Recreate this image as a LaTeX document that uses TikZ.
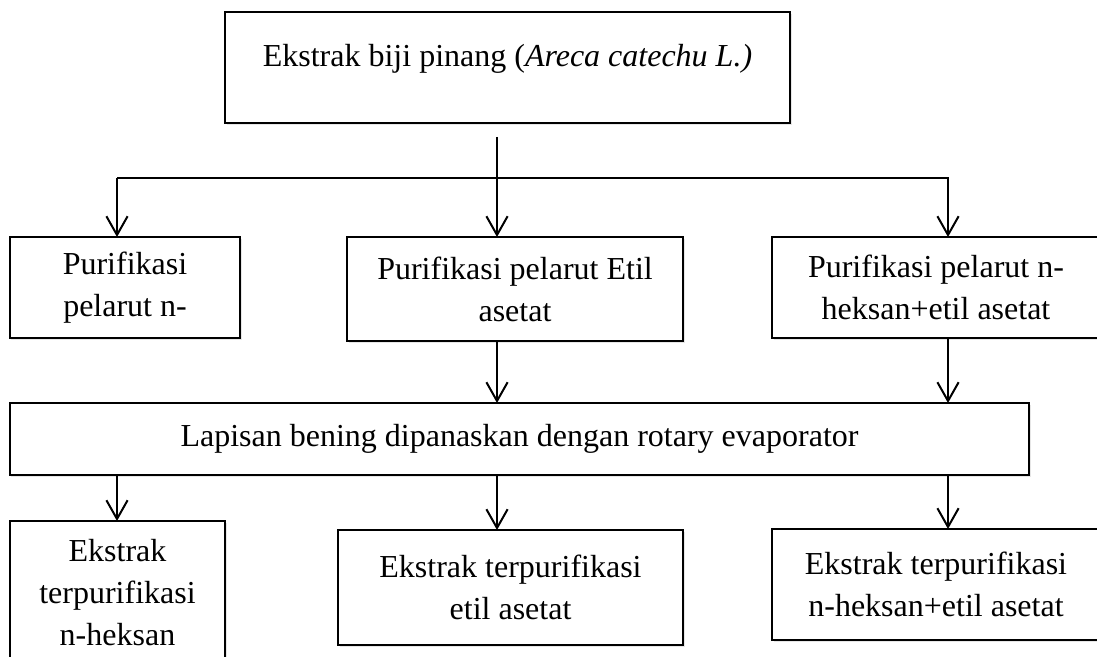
\documentclass[tikz,border=0pt]{standalone}
\usepackage{fontspec}
\setmainfont{Liberation Serif}
\usepackage{tikz}
\usetikzlibrary{arrows.meta, positioning, shadows}

\begin{document}
\begin{tikzpicture}[x=0.4pt, y=-0.4pt,
		kotak/.style={draw, fill=white, line width=0.9pt, inner sep=0pt, outer sep=0pt, align=center,
			font=\fontsize{12.8}{16.8}\selectfont,
			drop shadow={shadow xshift=0.6pt, shadow yshift=-0.9pt, opacity=0.2}},
		alir/.style={line width=0.8pt, -{Straight Barb[length=7.5pt, width=8.5pt]}}]
				% Bounding box:
				\clip (0, 0) rectangle (1097, 657);
				% Columns and branch points:
				\coordinate (kiri) at (117, 0);
				\coordinate (tengah) at (497, 0);
				\coordinate (kanan) at (948, 0);
				\coordinate (cabang) at (497, 137);
				\coordinate (garis) at (0, 178);
				% Boxes:
				\node[kotak, minimum width=226pt, minimum height=44.4pt] (ekstrak) at (507.5, 67.5) {Ekstrak biji pinang (\textit{Areca catechu L.)}\\[-6.8pt]\mbox{}};
				\node[kotak, minimum width=92pt, minimum height=40.4pt] (pnh) at (125, 287.5) {Purifikasi\\pelarut n-};
				\node[kotak, minimum width=134.4pt, minimum height=41.6pt] (pea) at (515, 289) {Purifikasi pelarut Etil\\asetat};
				\node[kotak, minimum width=131.2pt, minimum height=40.4pt] (pcamp) at (936, 287.5) {Purifikasi pelarut n-\\heksan+etil asetat};
				\node[kotak, minimum width=407.6pt, minimum height=28.8pt] (lapisan) at (519.5, 439) {Lapisan bening dipanaskan dengan rotary evaporator};
				\node[kotak, minimum width=86pt, minimum height=57.6pt] (enh) at (117.5, 593) {Ekstrak\\terpurifikasi\\n-heksan};
				\node[kotak, minimum width=138pt, minimum height=46pt] (eea) at (510.5, 587.5) {Ekstrak terpurifikasi\\etil asetat};
				\node[kotak, minimum width=131.2pt, minimum height=44.4pt] (ecamp) at (936, 584.5) {Ekstrak terpurifikasi\\n-heksan+etil asetat};
				% Arrows:
				\draw[alir] (cabang) -- (pea.north -| tengah);
				\draw[alir] (kiri |- garis) -- (pnh.north -| kiri);
				\draw[alir] (kiri |- garis) -- (kanan |- garis) -- (pcamp.north -| kanan);
				\draw[alir] (pea.south -| tengah) -- (lapisan.north -| tengah);
				\draw[alir] (pcamp.south -| kanan) -- (lapisan.north -| kanan);
				\draw[alir] (lapisan.south -| kiri) -- (enh.north -| kiri);
				\draw[alir] (lapisan.south -| tengah) -- (eea.north -| tengah);
				\draw[alir] (lapisan.south -| kanan) -- (ecamp.north -| kanan);
			\end{tikzpicture}
\end{document}
